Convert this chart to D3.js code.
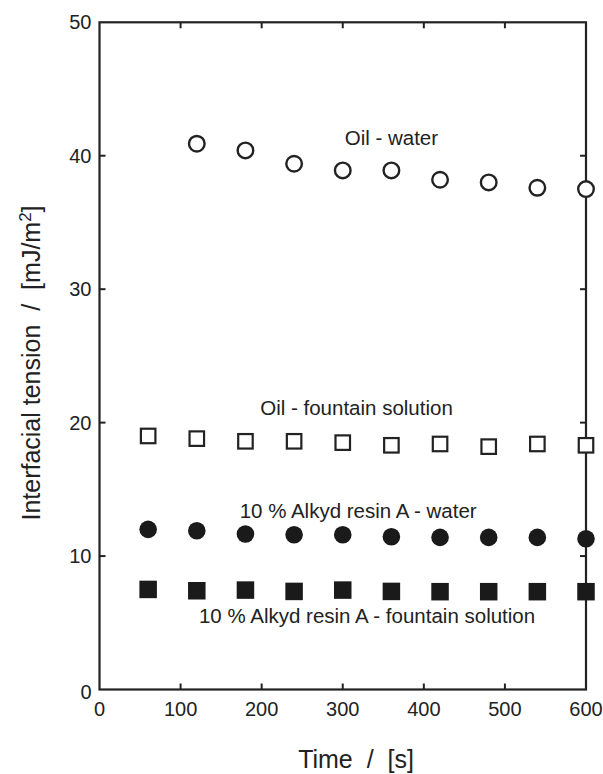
<!DOCTYPE html>
<html>
<head>
<meta charset="utf-8">
<script src="https://cdn.jsdelivr.net/npm/d3@7"></script>
<style>
  body { margin: 0; background: #fff; }
  text { font-family: "Liberation Sans", Arial, Helvetica, sans-serif; fill: #222; }
</style>
</head>
<body>
<div id="chart"></div>
<script>
// time axis (s)
const timesOpen = [120, 180, 240, 300, 360, 420, 480, 540, 600];
const times = [60, 120, 180, 240, 300, 360, 420, 480, 540, 600];

// interfacial tension (mJ/m2)
const oilWater = [40.9, 40.4, 39.4, 38.9, 38.9, 38.2, 38.0, 37.6, 37.5];
const oilFountain = [19.0, 18.8, 18.6, 18.6, 18.5, 18.3, 18.4, 18.2, 18.4, 18.3];
const alkydWater = [12.0, 11.9, 11.65, 11.6, 11.6, 11.45, 11.4, 11.4, 11.4, 11.3];
const alkydFountain = [7.5, 7.4, 7.45, 7.35, 7.45, 7.35, 7.33, 7.33, 7.33, 7.33];

const xTicks = [0, 100, 200, 300, 400, 500, 600];
const yTicks = [0, 10, 20, 30, 40, 50];

// annotation anchors, in data units
const labels = [
  { text: "Oil - water", t: 360, v: 40.8 },
  { text: "Oil - fountain solution", t: 317, v: 20.57 },
  { text: "10 % Alkyd resin A - water", t: 319, v: 12.83 },
  { text: "10 % Alkyd resin A - fountain solution", t: 330, v: 4.98 }
];

const W = 603, H = 774;
const margin = { top: 22.3, right: 17, bottom: 84.5, left: 99.5 };
const innerW = W - margin.left - margin.right;
const innerH = H - margin.top - margin.bottom;

const svg = d3.select("#chart").append("svg")
  .attr("width", W)
  .attr("height", H);

const x = d3.scaleLinear().domain([0, 600]).range([0, innerW]);
const y = d3.scaleLinear().domain([0, 50]).range([innerH, 0]);

const g = svg.append("g")
  .attr("transform", `translate(${margin.left},${margin.top})`);

// frame
g.append("rect")
  .attr("width", innerW)
  .attr("height", innerH)
  .attr("fill", "none")
  .attr("stroke", "#222")
  .attr("stroke-width", 2.2);

const tickLen = 6;
// inward ticks on all four sides
g.selectAll(".xt-bot").data(xTicks.slice(1, -1)).join("line")
  .attr("x1", d => x(d)).attr("x2", d => x(d))
  .attr("y1", innerH).attr("y2", innerH - tickLen)
  .attr("stroke", "#222").attr("stroke-width", 2);
g.selectAll(".xt-top").data(xTicks.slice(1, -1)).join("line")
  .attr("class", "xt-top")
  .attr("x1", d => x(d)).attr("x2", d => x(d))
  .attr("y1", 0).attr("y2", tickLen)
  .attr("stroke", "#222").attr("stroke-width", 2);
g.selectAll(".yt-left").data(yTicks.slice(1, -1)).join("line")
  .attr("class", "yt-left")
  .attr("y1", d => y(d)).attr("y2", d => y(d))
  .attr("x1", 0).attr("x2", tickLen)
  .attr("stroke", "#222").attr("stroke-width", 2);
g.selectAll(".yt-right").data(yTicks.slice(1, -1)).join("line")
  .attr("class", "yt-right")
  .attr("y1", d => y(d)).attr("y2", d => y(d))
  .attr("x1", innerW).attr("x2", innerW - tickLen)
  .attr("stroke", "#222").attr("stroke-width", 2);

// tick labels
g.selectAll(".xl").data(xTicks).join("text")
  .attr("class", "xl")
  .attr("x", d => x(d))
  .attr("y", innerH + 27)
  .attr("text-anchor", "middle")
  .style("font-size", "20px")
  .text(d => d);
g.selectAll(".yl").data(yTicks).join("text")
  .attr("class", "yl")
  .attr("x", -8)
  .attr("y", d => y(d) + (d === 0 ? 10 : 7))
  .attr("text-anchor", "end")
  .style("font-size", "20px")
  .text(d => d);

// axis titles
svg.append("text")
  .attr("x", 356)
  .attr("y", 768)
  .attr("text-anchor", "middle")
  .style("font-size", "25px")
  .style("white-space", "pre")
  .text("Time  /  [s]");

const yTitle = svg.append("text")
  .attr("transform", "translate(40,363) rotate(-90)")
  .attr("text-anchor", "middle")
  .style("font-size", "25px")
  .style("white-space", "pre");
yTitle.append("tspan").text("Interfacial tension  /  [mJ/m");
yTitle.append("tspan").attr("dy", -9).style("font-size", "17px").text("2");
yTitle.append("tspan").attr("dy", 9).text("]");

// markers
const sq = 14.5, sqFill = 17.5;

g.selectAll(".ow").data(timesOpen.map((t, i) => ({ t, v: oilWater[i] }))).join("circle")
  .attr("class", "ow")
  .attr("cx", d => x(d.t)).attr("cy", d => y(d.v))
  .attr("r", 7.8)
  .attr("fill", "#fff").attr("stroke", "#222").attr("stroke-width", 2.4);

g.selectAll(".of").data(times.map((t, i) => ({ t, v: oilFountain[i] }))).join("rect")
  .attr("class", "of")
  .attr("x", d => x(d.t) - sq / 2).attr("y", d => y(d.v) - sq / 2)
  .attr("width", sq).attr("height", sq)
  .attr("fill", "#fff").attr("stroke", "#222").attr("stroke-width", 2.2);

g.selectAll(".aw").data(times.map((t, i) => ({ t, v: alkydWater[i] }))).join("circle")
  .attr("class", "aw")
  .attr("cx", d => x(d.t)).attr("cy", d => y(d.v))
  .attr("r", 8.8)
  .attr("fill", "#1a1a1a");

g.selectAll(".af").data(times.map((t, i) => ({ t, v: alkydFountain[i] }))).join("rect")
  .attr("class", "af")
  .attr("x", d => x(d.t) - sqFill / 2).attr("y", d => y(d.v) - sqFill / 2)
  .attr("width", sqFill).attr("height", sqFill)
  .attr("fill", "#1a1a1a");

// series annotations
g.selectAll(".ann").data(labels).join("text")
  .attr("class", "ann")
  .attr("x", d => x(d.t))
  .attr("y", d => y(d.v))
  .attr("text-anchor", "middle")
  .style("font-size", "20.5px")
  .text(d => d.text);
</script>
</body>
</html>
